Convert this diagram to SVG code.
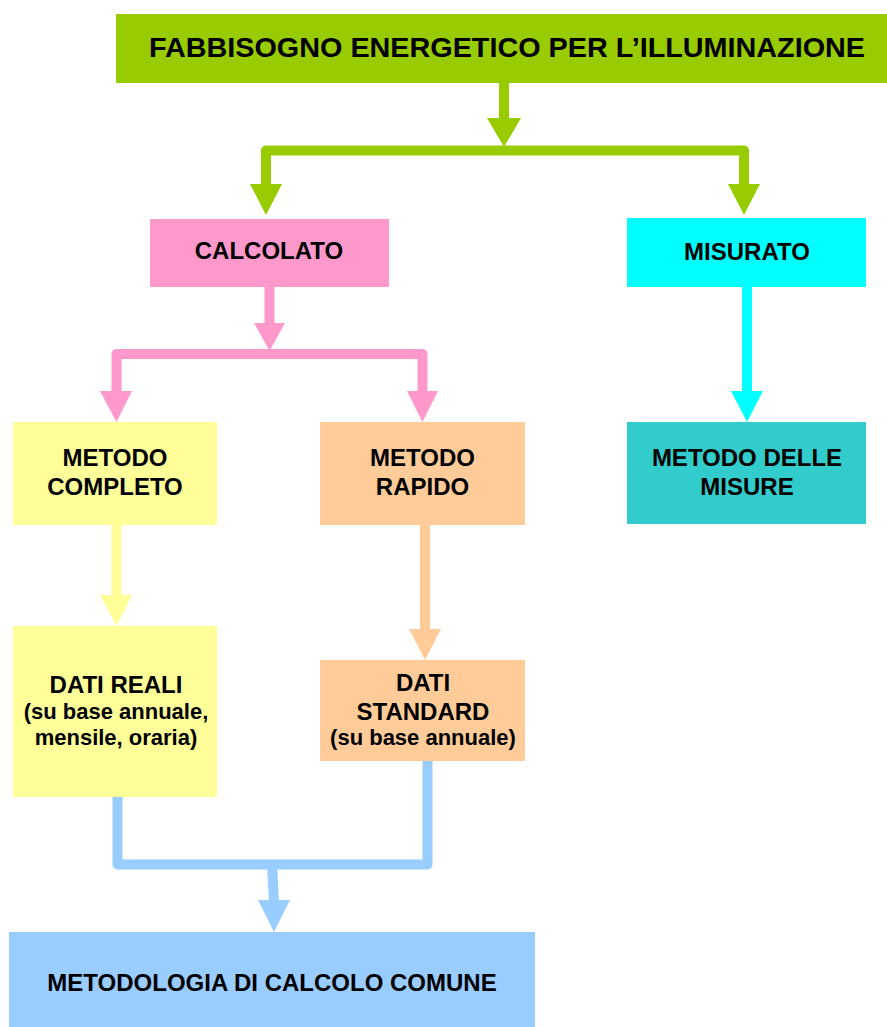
<svg xmlns="http://www.w3.org/2000/svg" width="887" height="1027" viewBox="0 0 887 1027">
<style>
text{font-family:"Liberation Sans",Arial,sans-serif;font-weight:bold;fill:#000;text-anchor:middle}
.t{font-size:24px}
.s{font-size:22px}
.c{fill:none;stroke-width:10;stroke-linejoin:round}
</style>
<rect width="887" height="1027" fill="#fff"/>
<g id="connectors">
<path class="c" stroke="#99CC00" d="M504,83 V120"/>
<polygon fill="#99CC00" points="487,118 521,118 504,147"/>
<path class="c" stroke="#99CC00" d="M266,186 V150.5 H744 V186"/>
<polygon fill="#99CC00" points="250,184 282,184 266,215"/>
<polygon fill="#99CC00" points="728,184 760,184 744,215"/>
<path class="c" stroke="#FF99CC" d="M269.5,287 V325"/>
<polygon fill="#FF99CC" points="254,323 285,323 269.5,351"/>
<path class="c" stroke="#FF99CC" d="M116.5,393 V354 H422.5 V393"/>
<polygon fill="#FF99CC" points="100,391 132,391 116.5,422"/>
<polygon fill="#FF99CC" points="407,391 438,391 422.5,422"/>
<path class="c" stroke="#00FFFF" d="M747,287 V393"/>
<polygon fill="#00FFFF" points="731,391 763,391 747,422"/>
<path class="c" stroke="#FFFF99" d="M116.5,525 V597"/>
<polygon fill="#FFFF99" points="100,595 132,595 116.5,626"/>
<path class="c" stroke="#FFCC99" d="M425,525 V631"/>
<polygon fill="#FFCC99" points="409,629 441,629 425,660"/>
<path class="c" stroke="#99CCFF" d="M117.5,797 V864.5 H427.5 V761"/>
<path class="c" stroke="#99CCFF" d="M272,864 L274,902"/>
<polygon fill="#99CCFF" points="258,900 290,900 274,932"/>
</g>
<g id="n-title">
<rect x="116" y="14" width="771" height="69" fill="#99CC00"/>
<text x="507" y="57" style="font-size:28.5px" textLength="716" lengthAdjust="spacingAndGlyphs">FABBISOGNO ENERGETICO PER L’ILLUMINAZIONE</text>
</g>
<g id="n-calcolato">
<rect x="150" y="219" width="239" height="68" fill="#FF99CC"/>
<text class="t" x="269" y="259">CALCOLATO</text>
</g>
<g id="n-misurato">
<rect x="627" y="218" width="239" height="69" fill="#00FFFF"/>
<text class="t" x="747" y="260">MISURATO</text>
</g>
<g id="n-completo">
<rect x="13" y="422" width="204" height="103" fill="#FFFF99"/>
<text class="t" x="115" y="466">METODO</text>
<text class="t" x="115" y="495">COMPLETO</text>
</g>
<g id="n-rapido">
<rect x="320" y="422" width="205" height="103" fill="#FFCC99"/>
<text class="t" x="422.5" y="466">METODO</text>
<text class="t" x="422.5" y="495">RAPIDO</text>
</g>
<g id="n-misure">
<rect x="627" y="422" width="239" height="102" fill="#33CCCC"/>
<text class="t" x="747" y="466">METODO DELLE</text>
<text class="t" x="747" y="495">MISURE</text>
</g>
<g id="n-reali">
<rect x="13" y="626" width="204" height="171" fill="#FFFF99"/>
<text class="t" x="116" y="693">DATI REALI</text>
<text class="s" x="116" y="719">(su base annuale,</text>
<text class="s" x="116" y="745">mensile, oraria)</text>
</g>
<g id="n-standard">
<rect x="320" y="660" width="205" height="101" fill="#FFCC99"/>
<text class="t" x="423" y="691">DATI</text>
<text class="t" x="423" y="720">STANDARD</text>
<text class="s" x="423" y="745">(su base annuale)</text>
</g>
<g id="n-comune">
<rect x="9" y="932" width="526" height="95" fill="#99CCFF"/>
<text class="t" x="272" y="991">METODOLOGIA DI CALCOLO COMUNE</text>
</g>
</svg>
